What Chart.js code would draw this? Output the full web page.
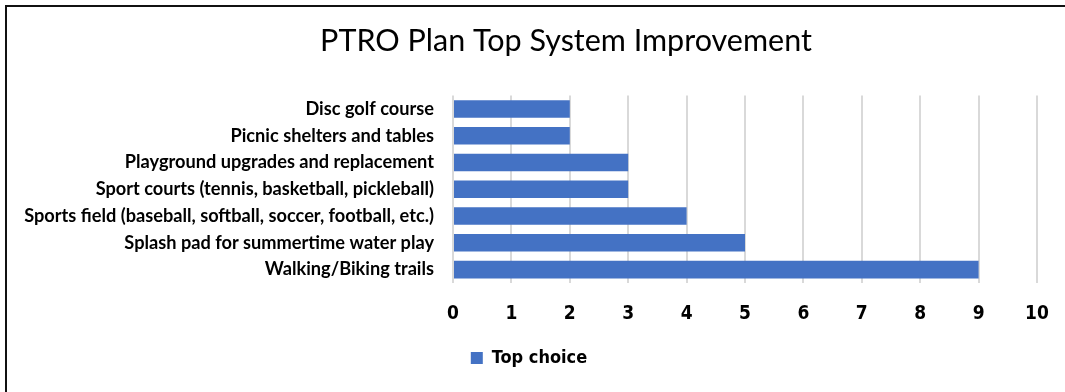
<!DOCTYPE html>
<html>
<head>
<meta charset="utf-8">
<script src="https://cdn.jsdelivr.net/npm/chart.js@4.4.1/dist/chart.umd.min.js"></script>
<style>
  html, body { margin: 0; padding: 0; background: #fff; }
  #wrap { position: relative; width: 1065px; height: 392px; overflow: hidden; }
  #frame { position: absolute; left: 5px; top: 5px; right: -10px; bottom: -10px;
           border-left: 2px solid #111; border-top: 2px solid #111; }
  #myChart { position: absolute; left: 0; top: 0; }
</style>
</head>
<body>
<div id="wrap">
  <div id="frame"></div>
  <canvas id="myChart" width="1065" height="392"></canvas>
</div>
<script>
// chart data ---------------------------------------
var categories = [
  'Disc golf course',
  'Picnic shelters and tables',
  'Playground upgrades and replacement',
  'Sport courts (tennis, basketball, pickleball)',
  'Sports field (baseball, softball, soccer, football, etc.)',
  'Splash pad for summertime water play',
  'Walking/Biking trails'
];
var topChoice = [2, 2, 3, 3, 4, 5, 9]; // votes per improvement
var xTicks = [0, 1, 2, 3, 4, 5, 6, 7, 8, 9, 10];
var seriesName = 'Top choice';
var chartTitle = 'PTRO Plan Top System Improvement';

var narrow = "'Liberation Sans Narrow', 'Arial Narrow', 'DejaVu Sans Condensed', Roboto, sans-serif";

// title sits a bit right of the legend in the original, nudge it
var titleShift = {
  id: 'titleShift',
  afterLayout: function (chart) {
    var t = chart.titleBlock;
    if (t) { t.left += 37; t.right += 37; }
  }
};

var ctx = document.getElementById('myChart').getContext('2d');
var myChart = new Chart(ctx, {
  type: 'bar',
  data: {
    labels: categories,
    datasets: [{
      label: seriesName,
      data: topChoice,
      backgroundColor: '#4472C4',
      borderWidth: 0,
      barPercentage: 0.655,
      categoryPercentage: 1
    }]
  },
  options: {
    indexAxis: 'y',
    responsive: false,
    animation: false,
    layout: { padding: { top: 8, left: 10, right: 17, bottom: 15 } },
    plugins: {
      title: {
        display: true,
        text: chartTitle,
        color: '#000',
        font: { family: 'Lato', size: 30.5, weight: 'normal' },
        padding: { top: 15, bottom: 36 }
      },
      legend: {
        position: 'bottom',
        labels: {
          color: '#000',
          boxWidth: 12,
          boxHeight: 12,
          padding: 10,
          font: { family: narrow, size: 18, weight: 'bold' }
        }
      },
      tooltip: { enabled: false }
    },
    scales: {
      x: {
        min: 0,
        max: 10,
        afterBuildTicks: function (s) {
          s.ticks = xTicks.map(function (v) { return { value: v }; });
        },
        afterFit: function (s) { s.height = 56; s.paddingRight = 28; },
        border: { display: false },
        grid: { color: '#d9d9d9', lineWidth: 2, drawTicks: false },
        ticks: {
          color: '#000',
          padding: 20,
          font: { family: narrow, size: 19, weight: 'bold' }
        }
      },
      y: {
        afterFit: function (s) { s.width = 443; },
        border: { display: false },
        grid: { display: false, drawTicks: false },
        ticks: {
          color: '#000',
          padding: 19,
          font: { family: 'Lato', size: 18.2, weight: 'bold' }
        }
      }
    }
  },
  plugins: [titleShift]
});
</script>
</body>
</html>
